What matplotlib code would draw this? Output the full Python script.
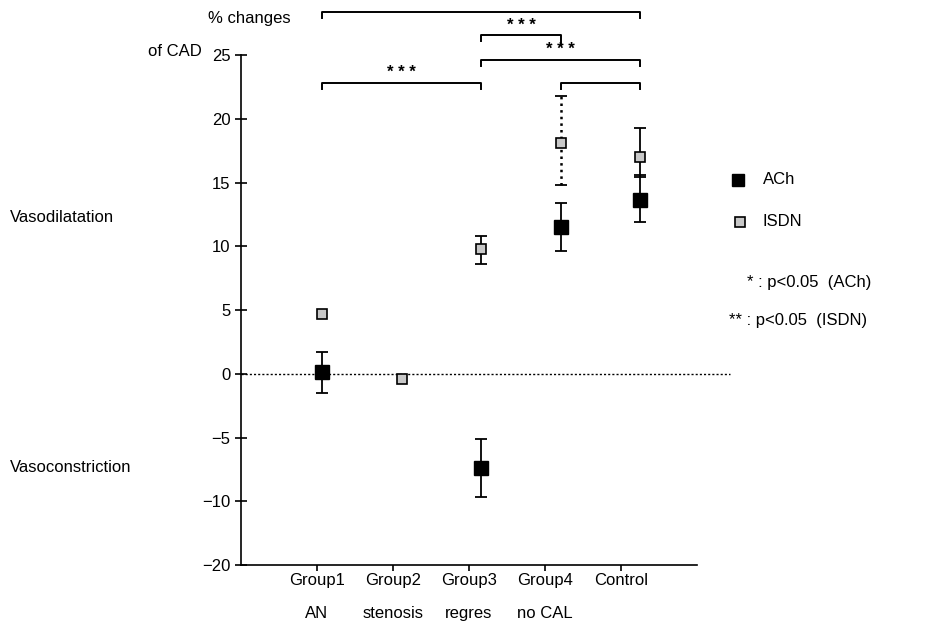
import numpy as np
import matplotlib
matplotlib.use("Agg")
import matplotlib.pyplot as plt

plt.rcParams['font.family'] = ['Liberation Sans', 'DejaVu Sans']

groups_top = ["Group1", "Group2", "Group3", "Group4", "Control"]
groups_bottom = ["AN", "stenosis", "regres", "no CAL", ""]
tick_pos = [1, 2, 3, 4, 5]
point_pos = [1.07, 2.12, 3.16, 4.21, 5.25]

ach_mean = [0.1, np.nan, -7.4, 11.5, 13.6]
ach_low = [-1.5, np.nan, -9.7, 9.6, 11.9]
ach_high = [1.7, np.nan, -5.1, 13.4, 15.6]

isdn_mean = [4.7, -0.4, 9.8, 18.1, 17.0]
isdn_low = [4.7, -0.4, 8.6, 14.8, 15.4]
isdn_high = [4.7, -0.4, 10.8, 21.8, 19.3]

ytick_vals = [-15, -10, -5, 0, 5, 10, 15, 20, 25]
ytick_labels = ["\u221220", "\u221210", "\u22125", "0", "5", "10", "15", "20", "25"]

# brackets: (group index a, group index b, height, label)
brackets = [(0, 4, 28.4, ""), (2, 3, 26.6, "* * *"), (2, 4, 24.6, "* * *"),
            (0, 2, 22.8, "* * *"), (3, 4, 22.8, "")]
bracket_label_y = {1: 27.3, 2: 25.4, 3: 23.6}

fig = plt.figure(figsize=(9.25, 6.31), dpi=100)
ax = fig.add_axes([0.2605, 0.1046, 0.4930, 0.8082])
ax.set_xlim(0, 6)
ax.set_ylim(-15, 25)

ax.axhline(0, xmin=0, xmax=6.43 / 6, color='black', lw=1.0, ls=(0, (1.5, 1.5)), clip_on=False, zorder=1)

am = np.array(ach_mean); al = np.array(ach_low); ah = np.array(ach_high)
im = np.array(isdn_mean); il = np.array(isdn_low); ih = np.array(isdn_high)
px = np.array(point_pos)

# ACh error bars
ax.errorbar(px, am, yerr=[am - al, ah - am], fmt='none', ecolor='black', elinewidth=1.3, capsize=4, capthick=1.3, zorder=2)
ax.plot(px, am, 's', color='black', ms=10, zorder=4, ls='none')

# ISDN error bars (group4 dotted)
for i in range(len(px)):
    if ih[i] - il[i] > 0:
        eb = ax.errorbar([px[i]], [im[i]], yerr=[[im[i] - il[i]], [ih[i] - im[i]]], fmt='none', ecolor='black',
                         elinewidth=1.3, capsize=4, capthick=1.3, zorder=2)
        if i == 3:
            eb[2][0].set_linestyle(':')
            eb[2][0].set_linewidth(1.8)
ax.plot(px, im, 's', mfc='#c8c8c8', mec='black', mew=1.2, ms=7.5, zorder=5, ls='none')

for s in ['top', 'right']:
    ax.spines[s].set_visible(False)
ax.spines['left'].set_linewidth(1.2)
ax.spines['bottom'].set_linewidth(1.2)
ax.set_yticks(ytick_vals)
ax.set_yticklabels(ytick_labels, fontsize=12)
ax.tick_params(axis='y', direction='inout', length=8, width=1.2)
ax.set_xticks(tick_pos)
ax.set_xticklabels(groups_top, fontsize=12)
ax.tick_params(axis='x', direction='out', length=4, width=1.2, pad=2)
for xp, lab in zip(tick_pos, groups_bottom):
    ax.text(xp, -18.8, lab, ha='center', va='center', fontsize=12, clip_on=False)

# brackets
for k, (a, b, h, lab) in enumerate(brackets):
    xa, xb = px[a], px[b]
    drop_b = 0.8 if k == 1 else 0.5
    ax.plot([xa, xa, xb, xb], [h - 0.5, h, h, h - drop_b], color='black', lw=1.4, clip_on=False)
    if lab:
        ax.text((xa + xb) / 2, bracket_label_y[k], lab, ha='center', va='center', fontsize=12,
                fontweight='bold', clip_on=False)

# annotations
fig.text(208 / 925, 1 - 18 / 631, "% changes", fontsize=12, va='center', ha='left')
fig.text(148 / 925, 1 - 52 / 631, "of CAD", fontsize=12, va='center', ha='left')
fig.text(10 / 925, 1 - 217 / 631, "Vasodilatation", fontsize=12, va='center', ha='left')
fig.text(10 / 925, 1 - 467 / 631, "Vasoconstriction", fontsize=12, va='center', ha='left')

# legend
fig.lines.append(matplotlib.lines.Line2D([738 / 925], [1 - 180 / 631], marker='s', color='black', ms=9,
                                         transform=fig.transFigure, ls='none'))
fig.text(763 / 925, 1 - 180 / 631, "ACh", fontsize=12, va='center', ha='left')
fig.lines.append(matplotlib.lines.Line2D([740 / 925], [1 - 222 / 631], marker='s', mfc='#c8c8c8', mec='black',
                                         mew=1.2, ms=7.5, transform=fig.transFigure, ls='none'))
fig.text(763 / 925, 1 - 222 / 631, "ISDN", fontsize=12, va='center', ha='left')
fig.text(747 / 925, 1 - 283 / 631, "* : p<0.05  (ACh)", fontsize=12, va='center', ha='left')
fig.text(729 / 925, 1 - 320 / 631, "** : p<0.05  (ISDN)", fontsize=12, va='center', ha='left')

fig.savefig("out.png", dpi=100)
